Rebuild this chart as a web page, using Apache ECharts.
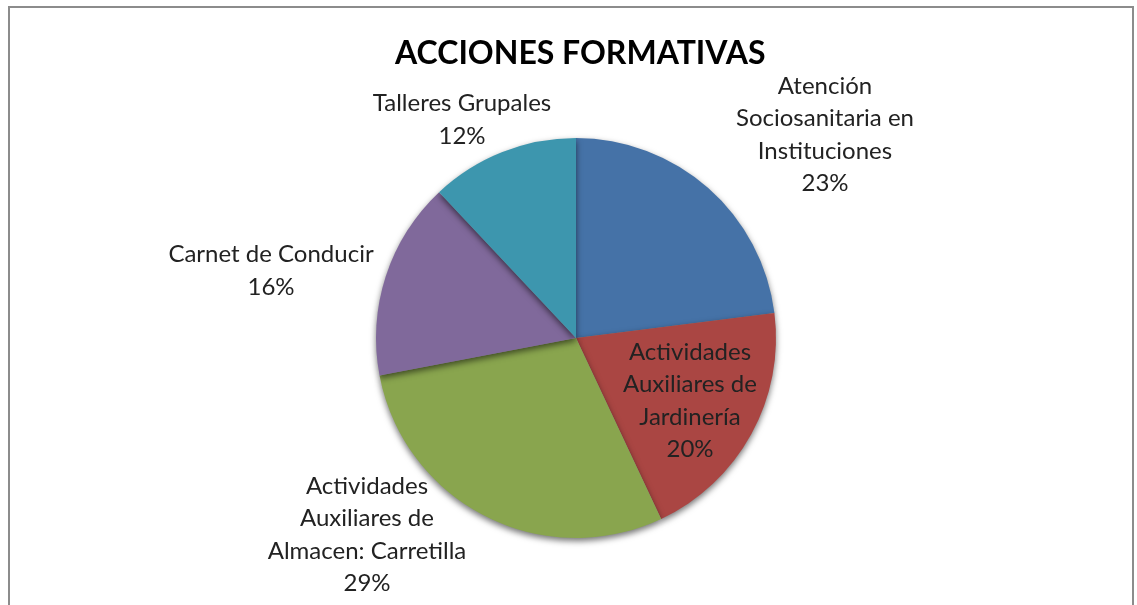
<!DOCTYPE html>
<html>
<head>
<meta charset="utf-8">
<script src="https://cdn.jsdelivr.net/npm/echarts@6/dist/echarts.min.js"></script>
<style>
  html, body { margin: 0; padding: 0; background: #fff; }
  #chart { width: 1137px; height: 605px; }
</style>
</head>
<body>
<div id="chart"></div>
<script>
// categorias y porcentajes
const categories = [
    'Atención\nSociosanitaria en\nInstituciones',
    'Actividades\nAuxiliares de\nJardinería',
    'Actividades\nAuxiliares de\nAlmacen: Carretilla',
    'Carnet de Conducir',
    'Talleres Grupales'
];
const values = [23, 20, 29, 16, 12];
const colors = ['#4572A7', '#AA4643', '#89A54E', '#80699B', '#3D96AE'];

// donde va cada etiqueta (centro del bloque de texto)
const labelSpots = [
    [825, 135],
    [690, 401],
    [367, 535],
    [271, 271],
    [462, 120]
];

let chart = echarts.init(document.getElementById('chart'));

chart.setOption({
    animation: false,
    title: {
        text: 'ACCIONES FORMATIVAS',
        left: 390,
        top: 33,
        textStyle: {
            fontFamily: 'Lato',
            fontWeight: 'bold',
            fontSize: 32,
            color: '#000'
        }
    },
    graphic: [{
        type: 'rect',
        shape: { x: 9, y: 7, width: 1124, height: 620 },
        style: { fill: 'none', stroke: '#8c8c8c', lineWidth: 2 },
        silent: true
    }],
    series: [{
        type: 'pie',
        center: [576, 338],
        radius: 200,
        startAngle: 90,
        clockwise: true,
        percentPrecision: 0,
        data: categories.map((name, i) => ({
            name: name,
            value: values[i],
            itemStyle: { color: colors[i] }
        })),
        itemStyle: {
            shadowBlur: 6,
            shadowOffsetY: 3,
            shadowColor: 'rgba(0,0,0,0.55)'
        },
        label: {
            show: true,
            formatter: '{b}\n{d}%',
            fontFamily: 'Lato',
            fontSize: 24,
            lineHeight: 32.5,
            color: '#222',
            align: 'center'
        },
        labelLine: { show: false },
        labelLayout: (p) => ({
            x: labelSpots[p.dataIndex][0],
            y: labelSpots[p.dataIndex][1],
            align: 'center',
            verticalAlign: 'middle'
        })
    }]
});
</script>
</body>
</html>
